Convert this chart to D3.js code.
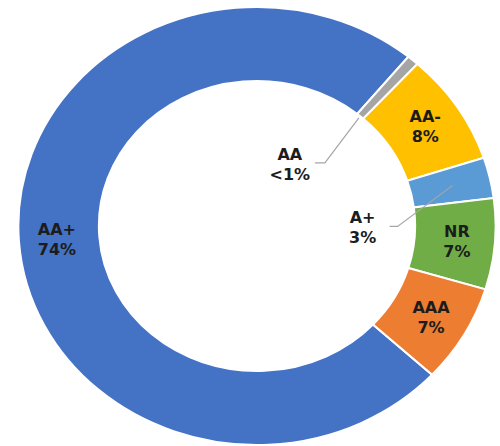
<!DOCTYPE html>
<html>
<head>
<meta charset="utf-8">
<script src="https://cdn.jsdelivr.net/npm/d3@7/dist/d3.min.js"></script>
<style>
  html, body { margin: 0; padding: 0; background: #fff; }
  svg { display: block; }
</style>
</head>
<body>
<div id="chart"></div>
<script>
// rating shares, clockwise from the AAA / AA+ boundary
const ratings = ["AA+", "AA", "AA-", "A+", "NR", "AAA"];
const shares = [73.9, 0.8, 8.2, 3.0, 6.7, 7.2];
const shareLabels = ["74%", "<1%", "8%", "3%", "7%", "7%"];
const colors = ["#4472C4", "#A5A5A5", "#FFC000", "#5B9BD5", "#70AD47", "#ED7D31"];

// which labels sit in the hole with a leader line
const callouts = ["AA", "A+"];

const width = 500;
const height = 446;
const cx = 257;
const cy = 226;
const stretchX = 1.09; // the picture is a bit wider than tall
const outerR = 219;
const innerR = 145;

const data = ratings.map((r, i) => ({ rating: r, value: shares[i], label: shareLabels[i], color: colors[i] }));

const svg = d3.select("#chart")
    .append("svg")
    .attr("width", width)
    .attr("height", height);

const pie = d3.pie()
    .sort(null)
    .value(d => d.value)
    .startAngle(132.8 * Math.PI / 180)
    .endAngle(132.8 * Math.PI / 180 + 2 * Math.PI);

const arc = d3.arc().innerRadius(innerR).outerRadius(outerR);
const labelArc = d3.arc().innerRadius(184).outerRadius(184);

const arcs = pie(data);

const ring = svg.append("g")
    .attr("transform", `translate(${cx},${cy}) scale(${stretchX},1)`);

ring.selectAll("path")
    .data(arcs)
    .enter()
    .append("path")
    .attr("d", arc)
    .attr("fill", d => d.data.color)
    .attr("stroke", "#fff")
    .attr("stroke-width", 2);

// map a point from the ring's own space onto the page
const toPage = p => [cx + p[0] * stretchX, cy + p[1]];

// leader lines for the small slices: start, elbow, end (offsets from the arc point)
const leaderStyle = {
    "AA": { startR: 143, elbow: [-34, 45], end: [-44, 45], text: [-25, -3] },
    "A+": { startR: 184, elbow: [-55, 41], end: [-63, 41], text: [-27, -3] }
};

const labelsG = svg.append("g")
    .style("font-family", "'DejaVu Sans', sans-serif")
    .style("font-weight", "bold")
    .style("font-size", "16px")
    .attr("fill", "#1c1c1c");

arcs.forEach(d => {
    if (callouts.includes(d.data.rating)) {
        const s = leaderStyle[d.data.rating];
        const mid = (d.startAngle + d.endAngle) / 2;
        const start = toPage([Math.sin(mid) * s.startR, -Math.cos(mid) * s.startR]);
        const elbow = [start[0] + s.elbow[0], start[1] + s.elbow[1]];
        const end = [start[0] + s.end[0], start[1] + s.end[1]];
        svg.append("polyline")
            .attr("points", [start, elbow, end].map(p => p.join(",")).join(" "))
            .attr("fill", "none")
            .attr("stroke", "#A6A6A6")
            .attr("stroke-width", 1.2);
        const t = labelsG.append("text")
            .attr("text-anchor", "middle")
            .attr("x", end[0] + s.text[0])
            .attr("y", end[1] + s.text[1]);
        t.append("tspan").attr("x", end[0] + s.text[0]).attr("dy", 0).text(d.data.rating);
        t.append("tspan").attr("x", end[0] + s.text[0]).attr("dy", 20).text(d.data.label);
    } else {
        const p = toPage(labelArc.centroid(d));
        const t = labelsG.append("text")
            .attr("text-anchor", "middle")
            .attr("x", p[0])
            .attr("y", p[1]);
        t.append("tspan").attr("x", p[0]).attr("dy", -4).text(d.data.rating);
        t.append("tspan").attr("x", p[0]).attr("dy", 20).text(d.data.label);
    }
});
</script>
</body>
</html>
